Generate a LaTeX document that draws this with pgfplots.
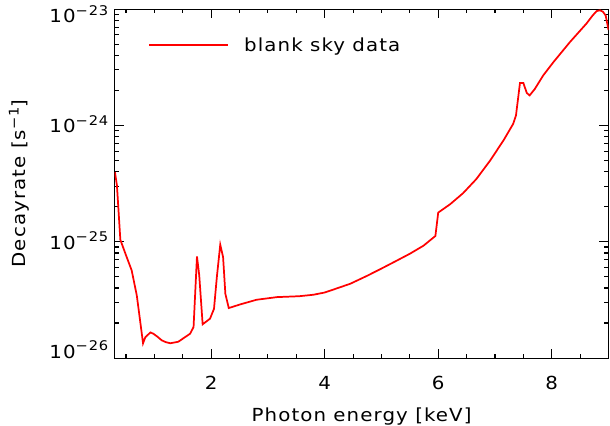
\documentclass[border=0pt]{standalone}
\usepackage{fontspec}
\setmainfont{DejaVu Sans}[FakeStretch=1.1, LetterSpace=6]
\usepackage{pgfplots}
\pgfplotsset{compat=1.18}

\newcommand{\tl}{\fontsize{13.5}{16}\selectfont}
\newcommand{\ex}[1]{\raisebox{5.5pt}{\fontsize{10}{10}\selectfont #1}}

\begin{document}
\begin{tikzpicture}
\useasboundingbox (-86pt,-50.25pt) rectangle (371.5pt,268.5pt);
\begin{axis}[
    scale only axis,
    width=370.4pt, height=261.75pt,
    xmin=0.3, xmax=9,
    ymode=log,
    ymin=1e-26, ymax=1e-23,
    axis line style={black, line width=0.8pt},
    every tick/.style={black, line width=0.8pt},
    major tick length=7pt,
    minor tick length=3.2pt,
    tick align=inside,
    xtick={2,4,6,8},
    minor xtick={0.5,1,...,9},
    ytick={1e-26,1e-25,1e-24,1e-23},
    minor ytick={2e-26,3e-26,4e-26,5e-26,6e-26,7e-26,8e-26,9e-26,
                 2e-25,3e-25,4e-25,5e-25,6e-25,7e-25,8e-25,9e-25,
                 2e-24,3e-24,4e-24,5e-24,6e-24,7e-24,8e-24,9e-24},
    yticklabels={\raisebox{5.7pt}{10\ex{−26}}, 10\ex{−25}, 10\ex{−24}, \raisebox{-4.5pt}{10\ex{−23}}},
    /pgf/number format/assume math mode=true,
    xticklabel style={font=\tl, yshift=-10pt},
    yticklabel style={font=\tl, anchor=base east, yshift=-5.7pt, xshift=-1.3pt},
    xlabel={Photon energy [keV]},
    ylabel={Decayrate [s\ex{−1}]},
    xlabel style={font=\tl, at={(axis description cs:0.5,0)}, anchor=base, yshift=-47.9pt},
    ylabel style={font=\tl, at={(axis description cs:-0.1796,0.5)}, anchor=base},
    legend style={draw=none, fill=none, font=\tl, at={(axis description cs:0.0674,0.896)},
                  anchor=west, inner sep=0pt, nodes={inner sep=0pt}},
    legend image code/.code={\draw[#1, line width=1.5pt] (0pt,0pt) -- (59pt,0pt); \path (70.6pt,0pt);},
]
\addplot[red, line width=1.3pt] coordinates {
(0.305,3.97e-25) (0.34,3.05e-25) (0.40,1.04e-25) (0.49,7.88e-26) (0.60,5.66e-26)
(0.69,3.45e-26) (0.80,1.34e-26) (0.84,1.51e-26) (0.93,1.66e-26) (0.98,1.62e-26)
(1.05,1.53e-26) (1.13,1.42e-26) (1.20,1.37e-26) (1.28,1.34e-26) (1.42,1.38e-26)
(1.63,1.62e-26) (1.69,1.85e-26) (1.75,7.48e-26) (1.79,5.13e-26) (1.85,1.95e-26)
(1.98,2.18e-26) (2.05,2.65e-26) (2.10,4.96e-26) (2.16,9.42e-26) (2.21,7.38e-26)
(2.25,3.57e-26) (2.31,2.69e-26) (2.51,2.89e-26) (2.80,3.17e-26) (3.16,3.34e-26)
(3.55,3.40e-26) (3.80,3.50e-26) (4.00,3.66e-26) (4.20,3.95e-26) (4.45,4.35e-26)
(4.75,5.10e-26) (5.03,5.98e-26) (5.25,6.80e-26) (5.50,7.88e-26) (5.74,9.24e-26)
(5.95,1.12e-25) (6.00,1.78e-25) (6.21,2.10e-25) (6.44,2.62e-25) (6.67,3.45e-25)
(6.91,4.95e-25) (7.15,7.43e-25) (7.32,1.03e-24) (7.37,1.22e-24) (7.44,2.31e-24)
(7.50,2.31e-24) (7.56,1.90e-24) (7.61,1.81e-24) (7.70,2.05e-24) (7.85,2.69e-24)
(8.03,3.50e-24) (8.32,5.20e-24) (8.61,7.49e-24) (8.72,8.80e-24) (8.79,9.60e-24)
(8.85,9.75e-24) (8.90,9.50e-24) (8.95,8.80e-24) (9.00,6.60e-24)
};
\addlegendentry{blank sky data}
\end{axis}
\end{tikzpicture}
\end{document}
